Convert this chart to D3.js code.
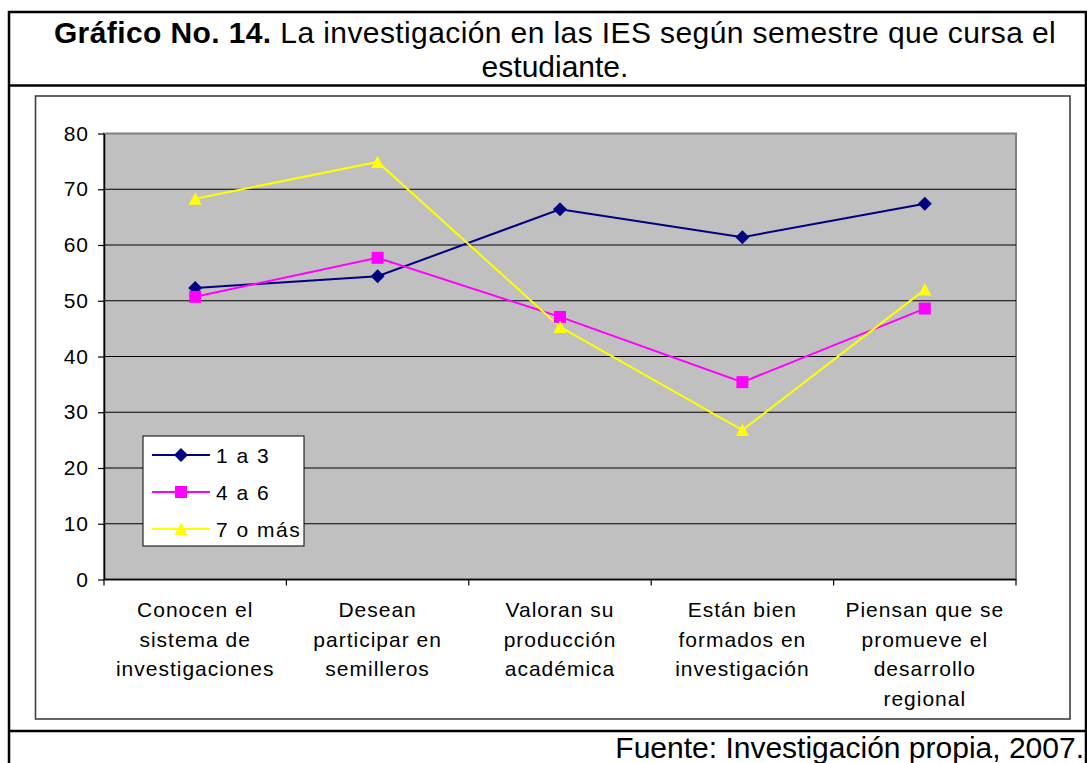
<!DOCTYPE html>
<html>
<head>
<meta charset="utf-8">
<script src="https://cdn.jsdelivr.net/npm/d3@7"></script>
<style>
  body { margin: 0; background: #fff; }
  svg { display: block; font-family: "Liberation Sans", Arial, sans-serif; }
</style>
</head>
<body>
<svg width="1087" height="763"></svg>
<script>
// data
var categories = [
  ["Conocen el", "sistema de", "investigaciones"],
  ["Desean", "participar en", "semilleros"],
  ["Valoran su", "producción", "académica"],
  ["Están bien", "formados en", "investigación"],
  ["Piensan que se", "promueve el", "desarrollo", "regional"]
];
var seriesNames = ["1 a 3", "4 a 6", "7 o más"];
var serie1 = [52.3, 54.4, 66.4, 61.4, 67.4];
var serie2 = [50.7, 57.7, 47.1, 35.4, 48.6];
var serie3 = [68.3, 74.9, 45.3, 26.8, 52.0];
var yTicks = [0, 10, 20, 30, 40, 50, 60, 70, 80];

var colors = ["#000080", "#FF00FF", "#FFFF00"];
var allSeries = [serie1, serie2, serie3];

var svg = d3.select("svg");

// outer table lines
var table = svg.append("g").attr("stroke", "#000").attr("stroke-width", 2.5);
table.append("line").attr("x1", 8).attr("x2", 1087).attr("y1", 12).attr("y2", 12);
table.append("line").attr("x1", 9).attr("x2", 9).attr("y1", 11).attr("y2", 763);
table.append("line").attr("x1", 1086).attr("x2", 1086).attr("y1", 11).attr("y2", 763);
table.append("line").attr("x1", 8).attr("x2", 1087).attr("y1", 85.5).attr("y2", 85.5);
table.append("line").attr("x1", 8).attr("x2", 1087).attr("y1", 731).attr("y2", 731);

// title
var title = svg.append("text")
    .attr("x", 555)
    .attr("y", 43)
    .attr("text-anchor", "middle")
    .style("font-size", "30px")
    .style("letter-spacing", "0.4px")
    .attr("fill", "#000");
title.append("tspan").style("font-weight", "bold").text("Gráfico No. 14.");
title.append("tspan").text(" La investigación en las IES según semestre que cursa el");
svg.append("text")
    .attr("x", 555)
    .attr("y", 77)
    .attr("text-anchor", "middle")
    .style("font-size", "30px")
    .text("estudiante.");

// footer
svg.append("text")
    .attr("x", 1084)
    .attr("y", 758)
    .attr("text-anchor", "end")
    .style("font-size", "30px")
    .text("Fuente: Investigación propia, 2007.");

// chart frame
svg.append("rect")
    .attr("x", 35.5).attr("y", 96)
    .attr("width", 1034.5).attr("height", 623)
    .attr("fill", "#fff")
    .attr("stroke", "#404040")
    .attr("stroke-width", 1.6);

var plot = {left: 104, right: 1016, top: 133.5, bottom: 579.5};

var x = d3.scaleBand()
    .domain(d3.range(categories.length))
    .range([plot.left, plot.right]);

var y = d3.scaleLinear()
    .domain([0, 80])
    .range([plot.bottom, plot.top]);

// plot area background
svg.append("rect")
    .attr("x", plot.left).attr("y", plot.top)
    .attr("width", plot.right - plot.left)
    .attr("height", plot.bottom - plot.top)
    .attr("fill", "#C0C0C0")
    .attr("stroke", "#808080")
    .attr("stroke-width", 2);

// gridlines
svg.append("g")
    .selectAll("line")
    .data(yTicks.filter(function(d) { return d > 0 && d < 80; }))
    .enter().append("line")
    .attr("x1", plot.left).attr("x2", plot.right)
    .attr("y1", function(d) { return y(d); })
    .attr("y2", function(d) { return y(d); })
    .attr("stroke", "#000")
    .attr("stroke-width", 1.2);

// y axis
var yAxis = d3.axisLeft(y).tickValues(yTicks).tickSizeInner(6).tickSizeOuter(0).tickPadding(9);
var gy = svg.append("g")
    .attr("transform", "translate(" + plot.left + ",0)")
    .call(yAxis);
gy.select(".domain").attr("stroke", "#000").attr("stroke-width", 1.5);
gy.selectAll(".tick line").attr("stroke", "#000").attr("stroke-width", 1.2);
gy.selectAll(".tick text")
    .style("font-size", "21px")
    .style("letter-spacing", "1px")
    .style("font-family", "Liberation Sans, Arial, sans-serif")
    .attr("fill", "#000");

// x axis
svg.append("line")
    .attr("x1", plot.left).attr("x2", plot.right)
    .attr("y1", plot.bottom).attr("y2", plot.bottom)
    .attr("stroke", "#000").attr("stroke-width", 1.5);
svg.append("g")
    .selectAll("line")
    .data(d3.range(categories.length + 1))
    .enter().append("line")
    .attr("x1", function(i) { return plot.left + i * x.bandwidth(); })
    .attr("x2", function(i) { return plot.left + i * x.bandwidth(); })
    .attr("y1", plot.bottom)
    .attr("y2", plot.bottom + 6)
    .attr("stroke", "#000").attr("stroke-width", 1.2);

var xl = svg.append("g").selectAll("text")
    .data(categories)
    .enter().append("text")
    .attr("x", function(d, i) { return x(i) + x.bandwidth() / 2; })
    .attr("y", 617)
    .attr("text-anchor", "middle")
    .style("font-size", "21px")
    .style("letter-spacing", "1px");
xl.selectAll("tspan")
    .data(function(d) { return d; })
    .enter().append("tspan")
    .attr("x", function() { return d3.select(this.parentNode).attr("x"); })
    .attr("dy", function(d, j) { return j === 0 ? 0 : 29.5; })
    .text(function(d) { return d; });

// markers
function markerPath(k) {
  if (k === 0) return "M0,-7L7,0L0,7L-7,0Z";
  if (k === 1) return "M-6,-6L6,-6L6,6L-6,6Z";
  return "M0,-6.5L6.5,6L-6.5,6Z";
}

var line = d3.line()
    .x(function(d, i) { return x(i) + x.bandwidth() / 2; })
    .y(function(d) { return y(d); });

allSeries.forEach(function(s, k) {
  svg.append("path")
      .datum(s)
      .attr("fill", "none")
      .attr("stroke", colors[k])
      .attr("stroke-width", 2)
      .attr("d", line);
});
allSeries.forEach(function(s, k) {
  svg.append("g").selectAll("path")
      .data(s)
      .enter().append("path")
      .attr("transform", function(d, i) {
        return "translate(" + (x(i) + x.bandwidth() / 2) + "," + y(d) + ")";
      })
      .attr("d", markerPath(k))
      .attr("fill", colors[k]);
});

// legend
var legend = svg.append("g").attr("transform", "translate(143,436)");
legend.append("rect")
    .attr("width", 161).attr("height", 110)
    .attr("fill", "#fff")
    .attr("stroke", "#000")
    .attr("stroke-width", 1);
seriesNames.forEach(function(name, k) {
  var ly = 19 + k * 37;
  legend.append("line")
      .attr("x1", 9).attr("x2", 67)
      .attr("y1", ly).attr("y2", ly)
      .attr("stroke", colors[k]).attr("stroke-width", 2);
  legend.append("path")
      .attr("transform", "translate(38," + ly + ")")
      .attr("d", markerPath(k))
      .attr("fill", colors[k]);
  legend.append("text")
      .attr("x", 73)
      .attr("y", ly + 7.5)
      .style("font-size", "21px")
      .style("letter-spacing", "1.5px")
      .text(name);
});
</script>
</body>
</html>
